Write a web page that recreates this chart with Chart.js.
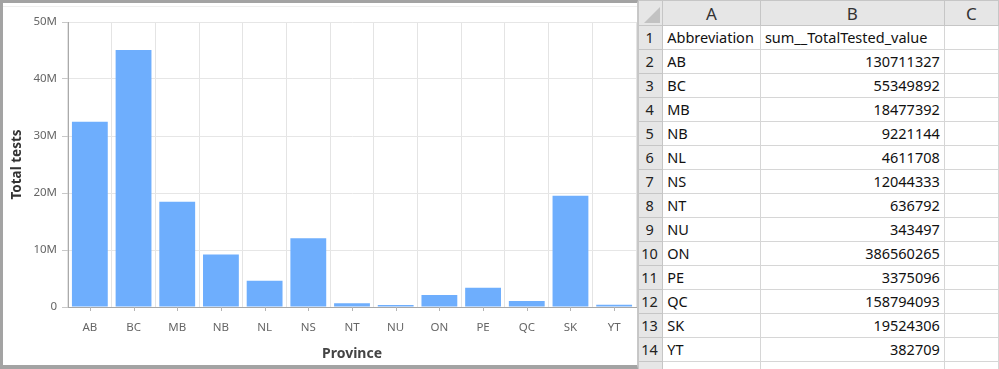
<!DOCTYPE html>
<html>
<head>
<meta charset="utf-8">
<script src="https://cdn.jsdelivr.net/npm/chart.js@4"></script>
<style>
  html, body { margin: 0; padding: 0; background: #fff; }
  body { width: 999px; height: 369px; position: relative; overflow: hidden; }
  #chartFrame {
    position: absolute; left: 0; top: 0; width: 634px; height: 362px;
    border-top: 3px solid #a3a3a3; border-left: 3px solid #a3a3a3;
    border-bottom: 4px solid #a3a3a3; border-right: 1px solid #c8c8c8;
    background: #fff;
  }
  #chartFrame .topLine { position: absolute; left: 0; right: 0; top: 3px; border-top: 1px solid #efefef; }
  #chartBox { position: absolute; left: 0; top: 0; width: 634px; height: 362px; }
  #sheet {
    position: absolute; left: 638px; top: 0; width: 361px; height: 369px; overflow: hidden;
    font-family: "Noto Sans", "Liberation Sans", sans-serif; font-size: 14.5px; color: #111;
  }
  #sheet table { border-collapse: collapse; table-layout: fixed; }
  #sheet td { height: 23px; padding: 0 4px; border: 1px solid #d6d6d6; white-space: nowrap; overflow: hidden; line-height: 23px; }
  #sheet td.rowHead { background: #e6e6e6; border-color: #c6c6c6; text-align: center; padding: 0 2px 0 0; color: #222; }
  #sheet tr.colHead td { background: #e6e6e6; border-color: #c6c6c6; text-align: center; height: 24px; font-size: 17px; color: #333; }
  #sheet td.num { text-align: right; }
  #sheet td.corner { position: relative; }
  #sheet td.corner::after {
    content: ""; position: absolute; right: 2px; bottom: 2px; width: 0; height: 0;
    border-left: 16px solid transparent; border-bottom: 16px solid #c2c2c2;
  }
</style>
</head>
<body>
<div id="chartFrame">
  <div class="topLine"></div>
  <div id="chartBox"><canvas id="testsChart"></canvas></div>
</div>
<div id="sheet"><table id="sheetTable"></table></div>

<script>
const provinces = ["AB", "BC", "MB", "NB", "NL", "NS", "NT", "NU", "ON", "PE", "QC", "SK", "YT"];
const totalTests = [32.5e6, 45.1e6, 18.48e6, 9.22e6, 4.61e6, 12.04e6, 0.64e6, 0.34e6, 2.1e6, 3.38e6, 1.05e6, 19.52e6, 0.38e6];
const yTicks = [0, 10e6, 20e6, 30e6, 40e6, 50e6];

const sheetColumns = ["A", "B", "C"];
const sheetHeader = ["Abbreviation", "sum__TotalTested_value"];
const sheetAbbrev = ["AB", "BC", "MB", "NB", "NL", "NS", "NT", "NU", "ON", "PE", "QC", "SK", "YT"];
const sheetValues = [130711327, 55349892, 18477392, 9221144, 4611708, 12044333, 636792, 343497, 386560265, 3375096, 158794093, 19524306, 382709];

const baseFont = "'Noto Sans', 'Liberation Sans', sans-serif";

// tick marks under the category centres (grid lines stay on the boundaries)
const centerTicks = {
  id: "centerTicks",
  afterDraw(chart) {
    const xScale = chart.scales.x;
    const ctx = chart.ctx;
    ctx.save();
    ctx.strokeStyle = "#b4b4b4";
    ctx.lineWidth = 1;
    provinces.forEach((name, index) => {
      const px = Math.round(xScale.getPixelForValue(index)) + 0.5;
      ctx.beginPath();
      ctx.moveTo(px, xScale.top);
      ctx.lineTo(px, xScale.top + 4);
      ctx.stroke();
    });
    ctx.restore();
  }
};

function initChart() {
  const context = document.getElementById("testsChart").getContext("2d");

  new Chart(context, {
    type: "bar",
    data: {
      labels: provinces,
      datasets: [
        {
          label: "Total tests",
          data: totalTests,
          backgroundColor: "#6eaefd",
          borderWidth: 0,
          categoryPercentage: 1,
          barPercentage: 0.82
        }
      ]
    },
    options: {
      responsive: true,
      maintainAspectRatio: false,
      animation: false,
      layout: { padding: { top: 19, right: 1, left: 0, bottom: 0 } },
      plugins: {
        legend: { display: false },
        tooltip: { enabled: false }
      },
      scales: {
        x: {
          afterFit: scale => { scale.height = 58; },
          grid: {
            offset: true,
            color: "#e4e4e4",
            tickLength: 4,
            tickColor: "transparent"
          },
          border: { color: "#a8a8a8" },
          ticks: {
            color: "#666",
            padding: 10,
            font: { family: baseFont, size: 11.5 }
          },
          title: {
            display: true,
            text: "Province",
            color: "#444",
            padding: { top: 4, bottom: 3 },
            font: { family: baseFont, size: 14, weight: "bold" }
          }
        },
        y: {
          min: 0,
          max: 50e6,
          afterFit: scale => { scale.width = 65; },
          afterBuildTicks: scale => { scale.ticks = yTicks.map(value => ({ value })); },
          grid: {
            color: "#e6e6e6",
            tickLength: 6,
            tickColor: "#c8c8c8"
          },
          border: { color: "#aaaaaa" },
          ticks: {
            color: "#666",
            padding: 5,
            font: { family: baseFont, size: 11.5 },
            callback: value => value === 0 ? "0" : (value / 1e6) + "M"
          },
          title: {
            display: true,
            text: "Total tests",
            color: "#333",
            padding: { top: 6, bottom: 4 },
            font: { family: baseFont, size: 13.5, weight: "bold" }
          }
        }
      }
    },
    plugins: [centerTicks]
  });
}

function buildSheet() {
  const table = document.getElementById("sheetTable");
  const widths = [25, 98, 186, 60];
  const colgroup = document.createElement("colgroup");
  widths.forEach(w => {
    const col = document.createElement("col");
    col.style.width = w + "px";
    colgroup.appendChild(col);
  });
  table.appendChild(colgroup);

  const head = document.createElement("tr");
  head.className = "colHead";
  head.innerHTML = "<td class='rowHead corner'></td>" + sheetColumns.map(c => `<td>${c}</td>`).join("");
  table.appendChild(head);

  const rows = [[sheetHeader[0], sheetHeader[1], false]];
  sheetAbbrev.forEach((abbr, i) => rows.push([abbr, String(sheetValues[i]), true]));
  rows.push(["", "", false]);

  rows.forEach((row, i) => {
    const tr = document.createElement("tr");
    tr.innerHTML = `<td class="rowHead">${i + 1}</td><td>${row[0]}</td>` +
      `<td class="${row[2] ? "num" : ""}">${row[1]}</td><td></td>`;
    table.appendChild(tr);
  });
}

initChart();
buildSheet();
</script>
</body>
</html>
